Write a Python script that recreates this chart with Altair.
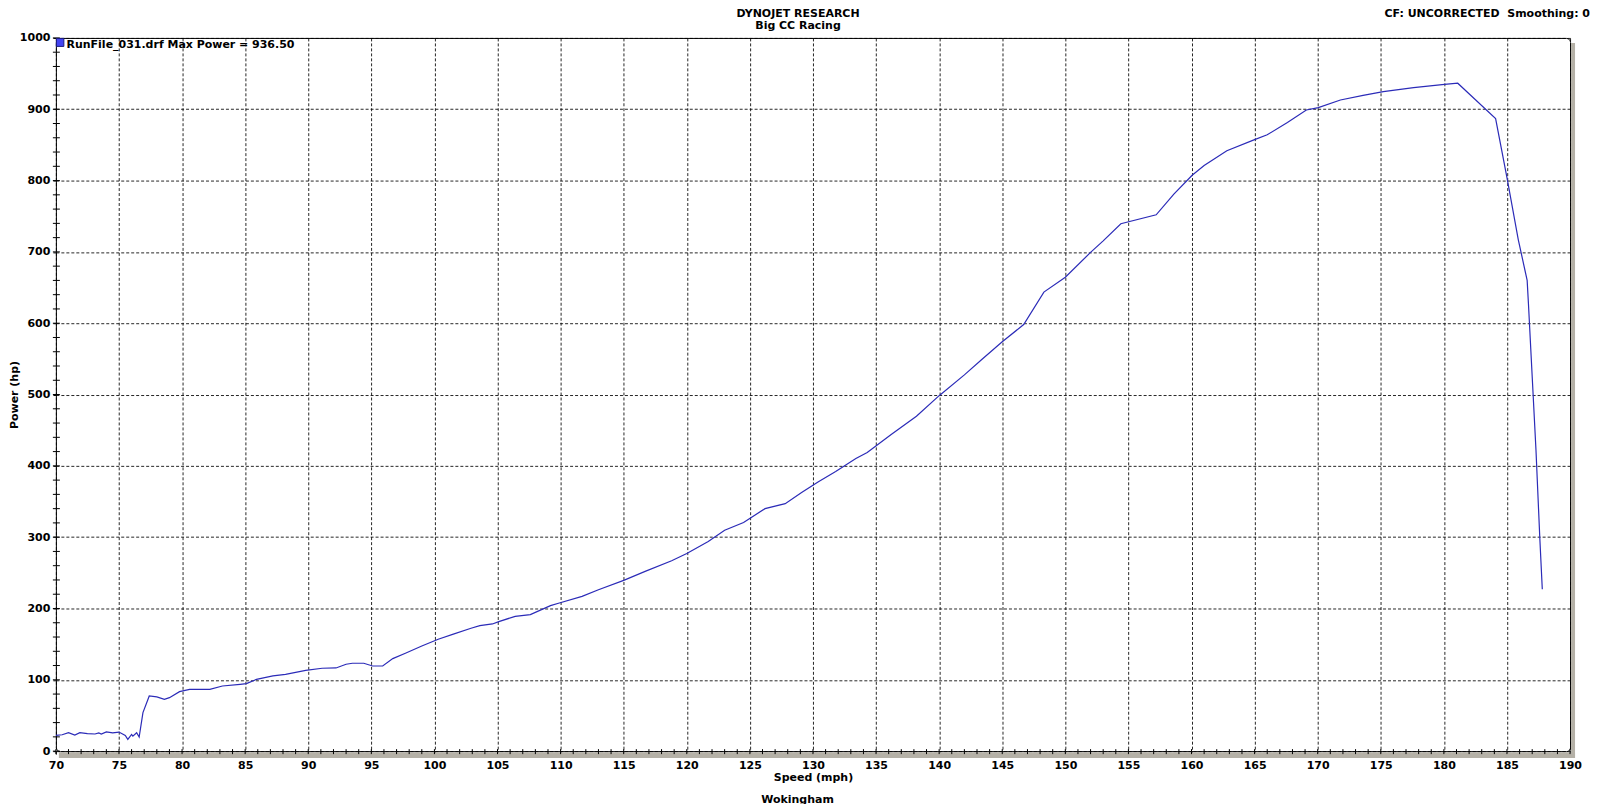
import altair as alt
import pandas as pd

# ---------------- data read from the dyno sheet ----------------
speed_mph = [70.0, 70.5, 71.0, 71.5, 71.9, 72.5, 73.1, 73.4, 73.6, 74.0, 74.5, 75.0,
             75.5, 75.7, 76.0, 76.1, 76.4, 76.6, 76.9, 77.4, 78.0, 78.6, 79.0, 79.8,
             80.6, 82.2, 83.2, 84.6, 85.1, 85.9, 87.2, 88.2, 89.8, 91.1, 92.2, 93.0,
             93.5, 94.4, 95.1, 95.9, 96.7, 97.7, 99.0, 100.3, 101.5, 102.9, 103.6, 104.6,
             105.1, 106.4, 107.6, 109.2, 109.9, 111.7, 113.0, 115.0, 116.7, 118.8, 120.0,
             121.7, 123.0, 124.5, 126.2, 127.8, 129.1, 130.4, 131.8, 133.4, 134.3, 136.2,
             138.2, 140.0, 142.0, 143.4, 145.0, 146.7, 148.3, 150.0, 152.0, 153.0, 154.4,
             157.2, 158.6, 160.05, 161.0, 162.8, 164.9, 166.0, 167.6, 169.1, 170.05, 171.8,
             173.6, 175.2, 177.6, 180.05, 181.1, 184.1, 185.0, 185.9, 186.6, 186.7, 187.0,
             187.3, 187.6, 187.8]
power_hp = [22.0, 23.0, 25.8, 22.5, 25.8, 24.5, 24.0, 25.5, 24.0, 27.0, 25.5, 26.7,
            22.0, 16.4, 23.4, 21.0, 25.8, 19.7, 54.0, 77.3, 76.0, 72.6, 75.0, 83.4,
            86.7, 86.7, 91.3, 93.7, 94.6, 100.7, 105.4, 107.7, 113.3, 116.2, 116.6, 121.8,
            123.2, 123.2, 119.4, 119.4, 129.7, 137.2, 147.5, 156.9, 164.0, 172.3, 176.0, 178.3,
            181.6, 189.0, 191.4, 204.0, 207.7, 217.0, 226.3, 239.4, 252.0, 266.9, 277.2,
            294.0, 309.8, 320.5, 340.0, 347.0, 362.5, 377.4, 392.0, 410.2, 418.6, 444.0,
            469.6, 498.4, 527.6, 549.4, 574.0, 598.1, 643.6, 664.5, 699.3, 715.5, 739.5,
            752.0, 781.0, 807.5, 821.0, 841.9, 856.7, 864.2, 881.4, 899.0, 902.3, 913.0,
            919.5, 924.7, 930.2, 934.9, 936.5, 887.0, 804.0, 717.0, 660.0, 628.0, 525.0,
            422.0, 300.0, 227.0]

x_major_ticks = list(range(70, 191, 5))
y_major_ticks = list(range(0, 1001, 100))
x_minor_ticks = list(range(70, 191, 1))
y_minor_ticks = list(range(0, 1001, 20))

run_file = "RunFile_031.drf"
max_power = 936.50
title_lines = ["DYNOJET RESEARCH", "Big CC Racing"]
corner_note = "CF: UNCORRECTED  Smoothing: 0"
location = "Wokingham"
x_title = "Speed (mph)"
y_title = "Power (hp)"

# ---------------- layout / style ----------------
W, H = 1518, 715
FONT = "DejaVu Sans"
LINE_COLOR = "#2b2bb8"
SHADOW = "#b5b1a7"

df = pd.DataFrame({"speed": speed_mph, "power": power_hp})
one = pd.DataFrame({"k": [0]})

x_scale = alt.Scale(domain=[70, 190], nice=False, zero=False)
y_scale = alt.Scale(domain=[0, 1000], nice=False, zero=False)

x_axis = alt.Axis(values=x_major_ticks, title=x_title, format="d", grid=True, gridDash=[3, 2],
                  gridColor="#000000", gridOpacity=0.85, gridWidth=1,
                  domain=False, ticks=True, tickSize=3, tickColor="#000000",
                  labelFont=FONT, labelFontWeight="bold", labelFontSize=11,
                  labelColor="#000000", labelBaseline="alphabetic", labelPadding=14,
                  labelFlush=False, labelOverlap=False,
                  titleFont=FONT, titleFontWeight="bold", titleFontSize=11,
                  titleColor="#000000", titleBaseline="alphabetic", titleY=29)
y_axis = alt.Axis(values=y_major_ticks, title=y_title, format="d", grid=True, gridDash=[3, 2],
                  gridColor="#000000", gridOpacity=0.85, gridWidth=1,
                  domain=False, ticks=True, tickSize=3, tickColor="#000000",
                  labelFont=FONT, labelFontWeight="bold", labelFontSize=11,
                  labelColor="#000000", labelAlign="right", labelBaseline="middle",
                  labelPadding=3, labelFlush=False, labelOverlap=False,
                  titleFont=FONT, titleFontWeight="bold", titleFontSize=11,
                  titleColor="#000000", titleAngle=270, titleAlign="center",
                  titleBaseline="middle", titleX=-41, titleY=H / 2)

X = alt.X("speed:Q", scale=x_scale, axis=x_axis)
Y = alt.Y("power:Q", scale=y_scale, axis=y_axis)

# shadow bands (3D frame look)
shadow_bottom = alt.Chart(one).mark_rect(color=SHADOW).encode(
    x=alt.value(3), x2=alt.value(W + 5), y=alt.value(H + 1), y2=alt.value(H + 7))
shadow_right = alt.Chart(one).mark_rect(color=SHADOW).encode(
    x=alt.value(W + 1), x2=alt.value(W + 5), y=alt.value(5), y2=alt.value(H + 7))

curve = alt.Chart(df).mark_line(color=LINE_COLOR, strokeWidth=1.2).encode(
    x=X, y=Y, order="speed:Q")

xt = pd.DataFrame({"speed": x_minor_ticks})
x_minor = alt.Chart(xt).mark_rule(color="#000000", strokeWidth=1).encode(
    x=X, y=alt.value(H - 2), y2=alt.value(H + 3))
yt = pd.DataFrame({"power": y_minor_ticks})
y_minor = alt.Chart(yt).mark_rule(color="#000000", strokeWidth=1).encode(
    y=Y, x=alt.value(-3), x2=alt.value(4))

legend_df = pd.DataFrame({"label": [f"{run_file} Max Power = {max_power:.2f}"]})
legend_box = alt.Chart(legend_df).mark_rect(color="#4444f2", stroke="#1c1c80",
                                            strokeWidth=1).encode(
    x=alt.value(0.5), x2=alt.value(8), y=alt.value(0.5), y2=alt.value(8.5))
legend_text = alt.Chart(legend_df).mark_text(
    align="left", baseline="alphabetic", font=FONT, fontWeight="bold",
    fontSize=11, color="#000000").encode(
    x=alt.value(10.7), y=alt.value(10.5), text="label:N")


def text_layer(txt, x, y, align="center"):
    shown = txt.replace("  ", " \u00a0")
    return alt.Chart(pd.DataFrame({"t": [shown]})).mark_text(
        align=align, baseline="alphabetic", font=FONT, fontWeight="bold",
        fontSize=11, color="#000000").encode(
        x=alt.value(x), y=alt.value(y), text="t:N")


title1 = text_layer(title_lines[0], 744, -20.5)
title2 = text_layer(title_lines[1], 744, -8.5)
note = text_layer(corner_note, 1538, -20.5, align="right")
loc = text_layer(location, 743.5, 767.5)

chart = alt.layer(
    shadow_bottom, shadow_right, curve, x_minor, y_minor,
    legend_box, legend_text, title1, title2, note, loc
).properties(
    width=W, height=H,
    autosize=alt.AutoSizeParams(type="none"),
    padding={"left": 48, "top": 29, "right": 22, "bottom": 53},
    background="white",
).configure_view(stroke="#000000", strokeWidth=1, cornerRadius=4)

chart.save("out.html", embed_options={"renderer": "svg", "actions": False})
